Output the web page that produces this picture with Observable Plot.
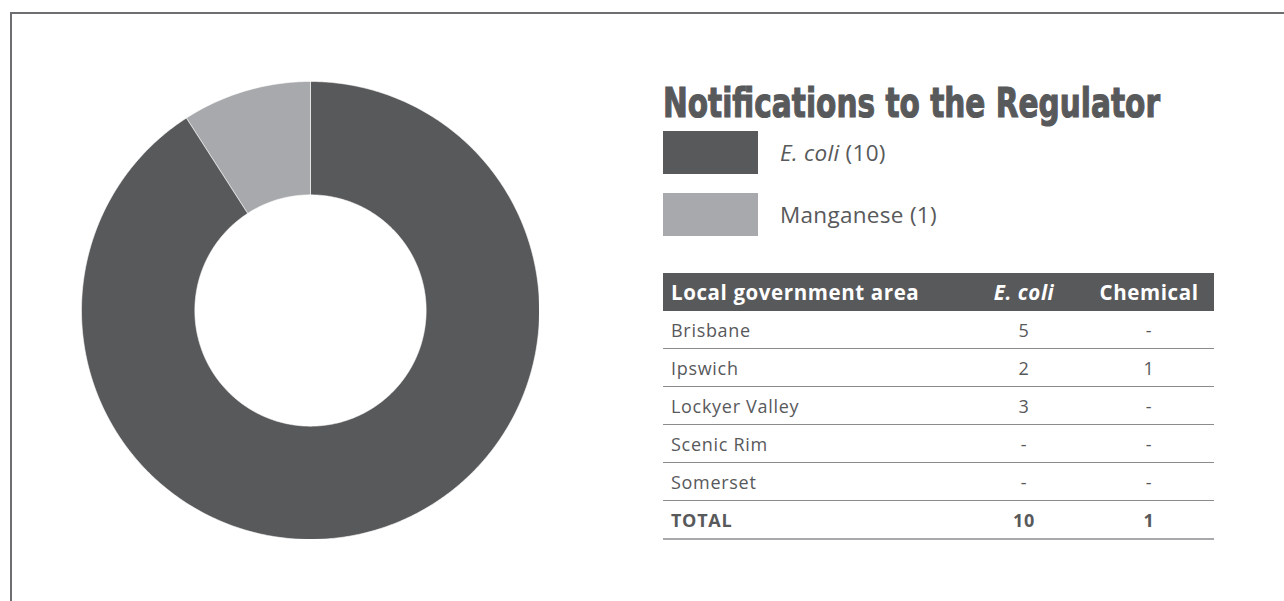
<!DOCTYPE html>
<html>
<head>
<meta charset="utf-8">
<script src="https://cdn.jsdelivr.net/npm/d3@7"></script>
<script src="https://cdn.jsdelivr.net/npm/@observablehq/plot@0.6"></script>
<style>
  html, body { margin: 0; padding: 0; background: #fff; }
  body { width: 1284px; height: 601px; position: relative; overflow: hidden; font-family: "Open Sans", "Noto Sans", sans-serif; color: #58595b; }
  #frame { position: absolute; left: 10px; top: 12px; width: 1400px; height: 700px; border-top: 2px solid #6d6e71; border-left: 2px solid #6d6e71; box-sizing: border-box; }
  #donut { position: absolute; left: 81px; top: 81px; }
  #title { position: absolute; left: 663px; top: 78px; font-family: "DejaVu Sans", sans-serif; font-weight: bold; font-size: 40px; line-height: 50px; color: #58595b; white-space: nowrap; transform-origin: 0 0; -webkit-text-stroke: 1.2px #58595b; }
  .leg { position: absolute; left: 663px; width: 95px; height: 43px; }
  .legtxt { position: absolute; left: 780px; font-size: 22.5px; line-height: 43px; letter-spacing: 0.3px; color: #58595b; white-space: nowrap; }
  table { position: absolute; left: 663px; top: 273px; border-collapse: collapse; width: 551px; table-layout: fixed; font-size: 18px; letter-spacing: 0.7px; color: #58595b; }
  th { background: #58595b; color: #fff; font-weight: bold; height: 38px; padding: 0; font-size: 20.5px; letter-spacing: 0.6px; }
  td { height: 37px; padding: 0; border-bottom: 1.5px solid #8a8b8d; }
  .c1 { text-align: left; padding-left: 8px; }
  .c2, .c3 { text-align: center; }
  tr.total td { font-weight: bold; border-bottom: 2px solid #a7a9ac; }
</style>
</head>
<body>
<div id="frame"></div>
<div id="donut"></div>
<div id="title">Notifications to the Regulator</div>
<div id="legend"></div>
<table id="tbl"></table>
<script>
// ---- data ----
const categories = ["E. coli", "Manganese"];
const counts = [10, 1];
const colors = ["#58595b", "#a7a9ac"];

const areas = ["Brisbane", "Ipswich", "Lockyer Valley", "Scenic Rim", "Somerset"];
const ecoliByArea = [5, 2, 3, null, null];
const chemicalByArea = [null, 1, null, null, null];
const tableHeaders = ["Local government area", "E. coli", "Chemical"];
const totalLabel = "TOTAL";

// ---- donut geometry from data (angles via d3.pie) ----
const innerRatio = 0.505;
const pie = d3.pie().sort(null).value(d => d.value);
const arcs = pie(categories.map((c, i) => ({name: c, value: counts[i]})));
function ringPolygon(a0, a1, r0, r1) {
  const n = Math.max(2, Math.ceil((a1 - a0) / (Math.PI / 360)));
  const outer = d3.range(n + 1).map(k => { const a = a0 + (a1 - a0) * k / n; return [r1 * Math.sin(a), -r1 * Math.cos(a)]; });
  const inner = d3.range(n + 1).map(k => { const a = a1 - (a1 - a0) * k / n; return [r0 * Math.sin(a), -r0 * Math.cos(a)]; });
  const ring = outer.concat(inner); ring.push(ring[0]);
  return {type: "Polygon", coordinates: [ring]};
}
const slices = arcs.map(a => ({name: a.data.name, value: a.data.value, geometry: ringPolygon(a.startAngle, a.endAngle, innerRatio, 1)}));
const outline = ringPolygon(0, 2 * Math.PI, 0, 1);

const donut = Plot.plot({
  width: 458, height: 458, margin: 0,
  projection: {type: "identity", domain: outline},
  color: {domain: categories, range: colors},
  marks: [
    Plot.geo(slices, {geometry: d => d.geometry, fill: d => d.name, stroke: "white", strokeWidth: 0.6})
  ]
});
document.getElementById("donut").appendChild(donut);

// ---- title: fit to reference width ----
const title = document.getElementById("title");
const tw = title.getBoundingClientRect().width;
title.style.transform = `scaleX(${497 / tw})`;

// ---- legend ----
const legend = document.getElementById("legend");
categories.forEach((c, i) => {
  const top = 131 + i * 62;
  const sw = document.createElement("div");
  sw.className = "leg"; sw.style.top = top + "px"; sw.style.background = colors[i];
  legend.appendChild(sw);
  const t = document.createElement("div");
  t.className = "legtxt"; t.style.top = top + "px";
  if (c === "E. coli") t.innerHTML = `<i>${c}</i> (${counts[i]})`;
  else t.textContent = `${c} (${counts[i]})`;
  legend.appendChild(t);
});

// ---- table ----
const tbl = document.getElementById("tbl");
const fmt = v => (v == null ? "-" : String(v));
let html = `<colgroup><col style="width:301px"><col style="width:120px"><col style="width:130px"></colgroup>`;
html += `<tr><th class="c1">${tableHeaders[0]}</th><th class="c2"><i>${tableHeaders[1]}</i></th><th class="c3">${tableHeaders[2]}</th></tr>`;
areas.forEach((a, i) => {
  html += `<tr><td class="c1">${a}</td><td class="c2">${fmt(ecoliByArea[i])}</td><td class="c3">${fmt(chemicalByArea[i])}</td></tr>`;
});
html += `<tr class="total"><td class="c1">${totalLabel}</td><td class="c2">${d3.sum(ecoliByArea)}</td><td class="c3">${d3.sum(chemicalByArea)}</td></tr>`;
tbl.innerHTML = html;
</script>
</body>
</html>
